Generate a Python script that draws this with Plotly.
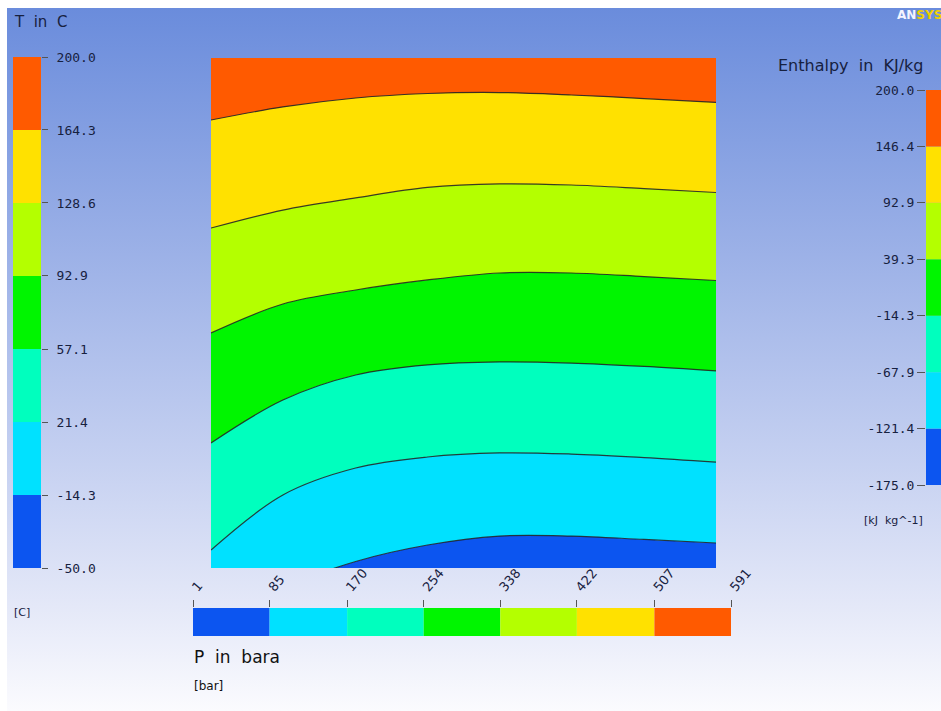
import base64
import plotly.graph_objects as go

W, H = 941, 711

# ---------------- data ----------------
P_ticks = [1, 85, 170, 254, 338, 422, 507, 591]
T_levels = [-50.0, -14.3, 21.4, 57.1, 92.9, 128.6, 164.3, 200.0]
H_levels = [-175.0, -121.4, -67.9, -14.3, 39.3, 92.9, 146.4, 200.0]
band_colors = ["#0c55f0", "#00e1ff", "#00ffbe", "#00f500", "#b4ff00", "#ffe100", "#ff5a00"]

# enthalpy (kJ/kg) of each isotherm boundary at the pressures in P_ticks
iso_m14_3 = [-216.2, -189.7, -170.2, -158.1, -151.5, -151.5, -154.0, -156.6]
iso_21_4 = [-161.8, -121.3, -101.5, -93.4, -90.4, -91.2, -93.8, -97.1]
iso_57_1 = [-83.1, -51.5, -33.1, -25.7, -23.5, -24.3, -26.8, -30.1]
iso_92_9 = [-2.2, 19.1, 29.4, 36.8, 41.9, 41.9, 39.3, 36.4]
iso_128_6 = [75.0, 88.2, 97.1, 104.8, 107.4, 106.6, 104.0, 101.1]
iso_164_3 = [154.4, 164.0, 170.6, 173.9, 174.6, 172.8, 170.2, 167.3]
isotherms = [iso_m14_3, iso_21_4, iso_57_1, iso_92_9, iso_128_6, iso_164_3]

H_MIN, H_MAX = H_levels[0], H_levels[-1]
P_MIN, P_MAX = P_ticks[0], P_ticks[-1]


def fx(px):
    return px / W


def fy(py):
    return 1 - py / H


TXT = "#17213f"
fig = go.Figure()

# ---- main contour bands ----
fig.add_trace(go.Scatter(x=P_ticks, y=[H_MIN] * len(P_ticks), mode="lines",
                         line=dict(width=0, color="rgba(0,0,0,0)"), hoverinfo="skip",
                         showlegend=False, xaxis="x", yaxis="y"))
for i, iso in enumerate(isotherms):
    fig.add_trace(go.Scatter(x=P_ticks, y=iso, mode="lines", fill="tonexty",
                             fillcolor=band_colors[i],
                             line=dict(color="rgba(30,30,30,0.85)", width=1.2, shape="spline", smoothing=1.0),
                             showlegend=False, xaxis="x", yaxis="y"))
fig.add_trace(go.Scatter(x=P_ticks, y=[H_MAX] * len(P_ticks), mode="lines", fill="tonexty",
                         fillcolor=band_colors[-1], line=dict(width=0, color="rgba(0,0,0,0)"),
                         showlegend=False, xaxis="x", yaxis="y"))

# ---- T colour bar (left) ----
fig.add_trace(go.Bar(x=[0] * 7, y=[T_levels[i + 1] - T_levels[i] for i in range(7)],
                     base=T_levels[:-1], marker=dict(color=band_colors, line=dict(width=0)),
                     width=1, showlegend=False, xaxis="x2", yaxis="y2"))
# ---- Enthalpy colour bar (right) ----
fig.add_trace(go.Bar(x=[0] * 7, y=[H_levels[i + 1] - H_levels[i] for i in range(7)],
                     base=H_levels[:-1], marker=dict(color=band_colors, line=dict(width=0)),
                     width=1, showlegend=False, xaxis="x3", yaxis="y3"))
# ---- P colour bar (bottom, horizontal) ----
fig.add_trace(go.Bar(y=[0] * 7, x=[P_ticks[i + 1] - P_ticks[i] for i in range(7)],
                     base=P_ticks[:-1], orientation="h",
                     marker=dict(color=band_colors, line=dict(width=0)),
                     width=1, showlegend=False, xaxis="x4", yaxis="y4"))

tickfont = dict(family="DejaVu Sans Mono", size=13, color=TXT)
hidden = dict(visible=False, showgrid=False, zeroline=False, automargin=False)

# background gradient (ANSYS viewport style)
svg = (
    '<svg xmlns="http://www.w3.org/2000/svg" width="941" height="711" preserveAspectRatio="none">'
    '<defs><linearGradient id="g" x1="0" y1="0" x2="0" y2="1">'
    '<stop offset="0" stop-color="#6a8cdc"/>'
    '<stop offset="0.35" stop-color="#9cb1e7"/>'
    '<stop offset="0.65" stop-color="#c6d1f1"/>'
    '<stop offset="0.85" stop-color="#e4e8f8"/>'
    '<stop offset="1" stop-color="#fbfbfe"/>'
    '</linearGradient></defs>'
    '<rect width="941" height="711" fill="#ffffff"/>'
    '<rect x="7" y="8" width="934" height="703" fill="url(#g)"/></svg>'
)
src = "data:image/svg+xml;base64," + base64.b64encode(svg.encode()).decode()

T_text = ["%.1f" % v for v in T_levels]
H_text = ["%.1f" % v for v in H_levels]

fig.update_layout(
    width=W, height=H,
    margin=dict(l=0, r=0, t=0, b=0, pad=0, autoexpand=False),
    paper_bgcolor="#ffffff",
    plot_bgcolor="rgba(0,0,0,0)",
    barmode="overlay",
    showlegend=False,
    images=[dict(source=src, xref="paper", yref="paper", x=0, y=1, sizex=1, sizey=1,
                 sizing="stretch", xanchor="left", yanchor="top", layer="below")],
    xaxis=dict(domain=[fx(211), fx(716)], range=[P_MIN, P_MAX], anchor="y", **hidden),
    yaxis=dict(domain=[fy(568), fy(58)], range=[H_MIN, H_MAX], anchor="x", **hidden),
    xaxis2=dict(domain=[fx(13), fx(41)], range=[-0.5, 0.5], anchor="y2", **hidden),
    yaxis2=dict(domain=[fy(568), fy(57)], range=[T_levels[0], T_levels[-1]], anchor="x2",
                side="right", tickvals=T_levels, ticktext=T_text, ticks="outside",
                ticklen=6, tickcolor="#555", tickfont=tickfont, ticklabelstandoff=6,
                showgrid=False, zeroline=False, showline=False, automargin=False),
    xaxis3=dict(domain=[fx(926), 1.0], range=[-0.5, 0.5], anchor="y3", **hidden),
    yaxis3=dict(domain=[fy(485), fy(90)], range=[H_levels[0], H_levels[-1]], anchor="x3",
                side="left", tickvals=H_levels, ticktext=H_text, ticks="outside",
                ticklen=8, tickcolor="#555", tickfont=tickfont,
                showgrid=False, zeroline=False, showline=False, automargin=False),
    xaxis4=dict(domain=[fx(193), fx(731)], range=[P_MIN, P_MAX], anchor="y4",
                side="top", tickvals=P_ticks, ticktext=[str(v) for v in P_ticks],
                tickangle=-50, ticks="outside", ticklen=7, tickcolor="#555",
                tickfont=dict(family="DejaVu Sans", size=13, color=TXT),
                showgrid=False, zeroline=False, showline=False, automargin=False),
    yaxis4=dict(domain=[fy(636), fy(608)], range=[-0.5, 0.5], anchor="x4", **hidden),
    annotations=[
        dict(text="T  in  C", x=fx(12), y=fy(22), xref="paper", yref="paper",
             xanchor="left", yanchor="middle", showarrow=False,
             font=dict(family="DejaVu Sans", size=15, color=TXT)),
        dict(text="[C]", x=fx(12), y=fy(612), xref="paper", yref="paper",
             xanchor="left", yanchor="middle", showarrow=False,
             font=dict(family="DejaVu Sans", size=11, color=TXT)),
        dict(text="Enthalpy  in  KJ/kg", x=fx(776), y=fy(66), xref="paper", yref="paper",
             xanchor="left", yanchor="middle", showarrow=False,
             font=dict(family="DejaVu Sans", size=16, color=TXT)),
        dict(text="[kJ  kg^-1]", x=fx(862), y=fy(520), xref="paper", yref="paper",
             xanchor="left", yanchor="middle", showarrow=False,
             font=dict(family="DejaVu Sans", size=11, color=TXT)),
        dict(text="P  in  bara", x=fx(192), y=fy(657), xref="paper", yref="paper",
             xanchor="left", yanchor="middle", showarrow=False,
             font=dict(family="DejaVu Sans", size=17, color="#111")),
        dict(text="[bar]", x=fx(192), y=fy(686), xref="paper", yref="paper",
             xanchor="left", yanchor="middle", showarrow=False,
             font=dict(family="DejaVu Sans", size=12, color="#111")),
        dict(text="<b>AN<span style='color:#f0d000'>SYS</span></b>", x=fx(895), y=fy(15),
             xref="paper", yref="paper", xanchor="left", yanchor="middle", showarrow=False,
             font=dict(family="DejaVu Sans", size=12, color="#f4f4ff")),
    ],
)

fig.write_html("out.html", config={"displayModeBar": False},
               post_script="document.body.style.margin='0';")
